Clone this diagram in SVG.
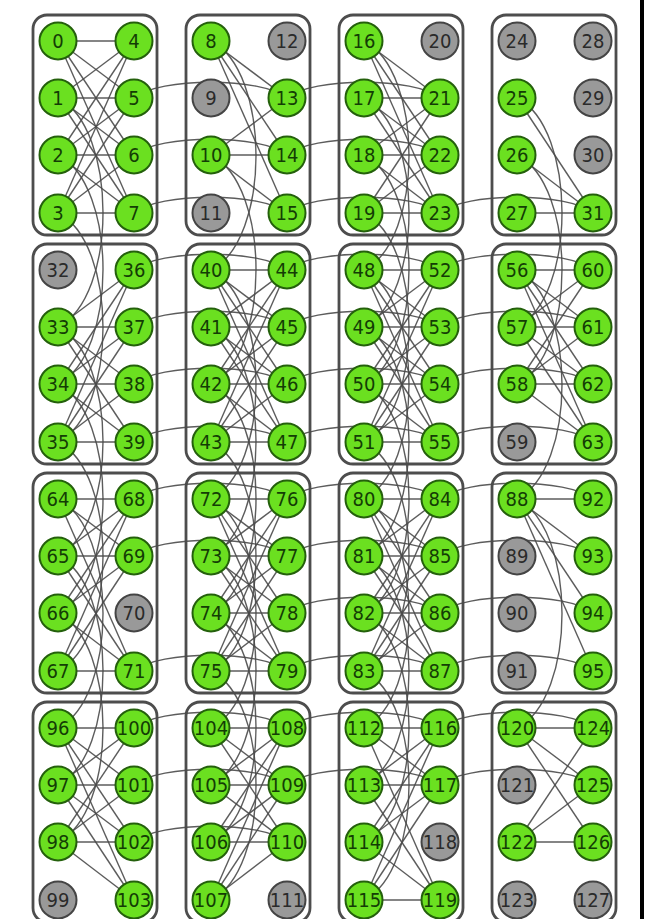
<svg xmlns="http://www.w3.org/2000/svg" width="655" height="919" viewBox="0 0 655 919">
<style>
.box{fill:none;stroke:#4d4d4d;stroke-width:2.8}
.e line,.e path{stroke:#4a4a4a;stroke-width:1.4;fill:none;stroke-opacity:0.9}
.n circle{r:18.5px;stroke-width:2}
.g circle{fill:#6be020;stroke:#24600c}
.d circle{fill:#999;stroke:#444}
.n text{font-family:"DejaVu Sans Condensed","DejaVu Sans",sans-serif;font-stretch:condensed;font-size:20px;text-anchor:middle}
.g text{fill:#133d05}
.d text{fill:#2a2a2a}
</style>
<rect width="655" height="919" fill="#fff"/>
<g id="cells">
<rect class="box" x="33" y="15" width="124" height="220" rx="14"/>
<rect class="box" x="186" y="15" width="124" height="220" rx="14"/>
<rect class="box" x="339" y="15" width="124" height="220" rx="14"/>
<rect class="box" x="492" y="15" width="124" height="220" rx="14"/>
<rect class="box" x="33" y="244" width="124" height="220" rx="14"/>
<rect class="box" x="186" y="244" width="124" height="220" rx="14"/>
<rect class="box" x="339" y="244" width="124" height="220" rx="14"/>
<rect class="box" x="492" y="244" width="124" height="220" rx="14"/>
<rect class="box" x="33" y="473" width="124" height="220" rx="14"/>
<rect class="box" x="186" y="473" width="124" height="220" rx="14"/>
<rect class="box" x="339" y="473" width="124" height="220" rx="14"/>
<rect class="box" x="492" y="473" width="124" height="220" rx="14"/>
<rect class="box" x="33" y="702" width="124" height="220" rx="14"/>
<rect class="box" x="186" y="702" width="124" height="220" rx="14"/>
<rect class="box" x="339" y="702" width="124" height="220" rx="14"/>
<rect class="box" x="492" y="702" width="124" height="220" rx="14"/>
</g>
<rect x="640" y="0" width="4" height="919" fill="#000"/>
<g id="connectors" class="e">
<line x1="58" y1="41" x2="134" y2="41"/><line x1="58" y1="41" x2="134" y2="98"/><line x1="58" y1="41" x2="134" y2="155"/><line x1="58" y1="41" x2="134" y2="213"/>
<line x1="58" y1="98" x2="134" y2="41"/><line x1="58" y1="98" x2="134" y2="98"/><line x1="58" y1="98" x2="134" y2="155"/><line x1="58" y1="98" x2="134" y2="213"/>
<line x1="58" y1="155" x2="134" y2="41"/><line x1="58" y1="155" x2="134" y2="98"/><line x1="58" y1="155" x2="134" y2="155"/><line x1="58" y1="155" x2="134" y2="213"/>
<line x1="58" y1="213" x2="134" y2="41"/><line x1="58" y1="213" x2="134" y2="98"/><line x1="58" y1="213" x2="134" y2="155"/><line x1="58" y1="213" x2="134" y2="213"/>
<line x1="211" y1="41" x2="287" y2="98"/><line x1="211" y1="41" x2="287" y2="155"/><line x1="211" y1="41" x2="287" y2="213"/>
<line x1="211" y1="155" x2="287" y2="98"/><line x1="211" y1="155" x2="287" y2="155"/><line x1="211" y1="155" x2="287" y2="213"/>
<line x1="364" y1="41" x2="440" y2="98"/><line x1="364" y1="41" x2="440" y2="155"/><line x1="364" y1="41" x2="440" y2="213"/>
<line x1="364" y1="98" x2="440" y2="98"/><line x1="364" y1="98" x2="440" y2="155"/><line x1="364" y1="98" x2="440" y2="213"/>
<line x1="364" y1="155" x2="440" y2="98"/><line x1="364" y1="155" x2="440" y2="155"/><line x1="364" y1="155" x2="440" y2="213"/>
<line x1="364" y1="213" x2="440" y2="98"/><line x1="364" y1="213" x2="440" y2="155"/><line x1="364" y1="213" x2="440" y2="213"/>
<line x1="517" y1="98" x2="593" y2="213"/><line x1="517" y1="155" x2="593" y2="213"/><line x1="517" y1="213" x2="593" y2="213"/>
<line x1="58" y1="327" x2="134" y2="270"/><line x1="58" y1="327" x2="134" y2="327"/><line x1="58" y1="327" x2="134" y2="384"/><line x1="58" y1="327" x2="134" y2="442"/>
<line x1="58" y1="384" x2="134" y2="270"/><line x1="58" y1="384" x2="134" y2="327"/><line x1="58" y1="384" x2="134" y2="384"/><line x1="58" y1="384" x2="134" y2="442"/>
<line x1="58" y1="442" x2="134" y2="270"/><line x1="58" y1="442" x2="134" y2="327"/><line x1="58" y1="442" x2="134" y2="384"/><line x1="58" y1="442" x2="134" y2="442"/>
<line x1="211" y1="270" x2="287" y2="270"/><line x1="211" y1="270" x2="287" y2="327"/><line x1="211" y1="270" x2="287" y2="384"/><line x1="211" y1="270" x2="287" y2="442"/>
<line x1="211" y1="327" x2="287" y2="270"/><line x1="211" y1="327" x2="287" y2="327"/><line x1="211" y1="327" x2="287" y2="384"/><line x1="211" y1="327" x2="287" y2="442"/>
<line x1="211" y1="384" x2="287" y2="270"/><line x1="211" y1="384" x2="287" y2="327"/><line x1="211" y1="384" x2="287" y2="384"/><line x1="211" y1="384" x2="287" y2="442"/>
<line x1="211" y1="442" x2="287" y2="270"/><line x1="211" y1="442" x2="287" y2="327"/><line x1="211" y1="442" x2="287" y2="384"/><line x1="211" y1="442" x2="287" y2="442"/>
<line x1="364" y1="270" x2="440" y2="270"/><line x1="364" y1="270" x2="440" y2="327"/><line x1="364" y1="270" x2="440" y2="384"/><line x1="364" y1="270" x2="440" y2="442"/>
<line x1="364" y1="327" x2="440" y2="270"/><line x1="364" y1="327" x2="440" y2="327"/><line x1="364" y1="327" x2="440" y2="384"/><line x1="364" y1="327" x2="440" y2="442"/>
<line x1="364" y1="384" x2="440" y2="270"/><line x1="364" y1="384" x2="440" y2="327"/><line x1="364" y1="384" x2="440" y2="384"/><line x1="364" y1="384" x2="440" y2="442"/>
<line x1="364" y1="442" x2="440" y2="270"/><line x1="364" y1="442" x2="440" y2="327"/><line x1="364" y1="442" x2="440" y2="384"/><line x1="364" y1="442" x2="440" y2="442"/>
<line x1="517" y1="270" x2="593" y2="270"/><line x1="517" y1="270" x2="593" y2="327"/><line x1="517" y1="270" x2="593" y2="384"/><line x1="517" y1="270" x2="593" y2="442"/>
<line x1="517" y1="327" x2="593" y2="270"/><line x1="517" y1="327" x2="593" y2="327"/><line x1="517" y1="327" x2="593" y2="384"/><line x1="517" y1="327" x2="593" y2="442"/>
<line x1="517" y1="384" x2="593" y2="270"/><line x1="517" y1="384" x2="593" y2="327"/><line x1="517" y1="384" x2="593" y2="384"/><line x1="517" y1="384" x2="593" y2="442"/>
<line x1="58" y1="499" x2="134" y2="499"/><line x1="58" y1="499" x2="134" y2="556"/><line x1="58" y1="499" x2="134" y2="671"/>
<line x1="58" y1="556" x2="134" y2="499"/><line x1="58" y1="556" x2="134" y2="556"/><line x1="58" y1="556" x2="134" y2="671"/>
<line x1="58" y1="613" x2="134" y2="499"/><line x1="58" y1="613" x2="134" y2="556"/><line x1="58" y1="613" x2="134" y2="671"/>
<line x1="58" y1="671" x2="134" y2="499"/><line x1="58" y1="671" x2="134" y2="556"/><line x1="58" y1="671" x2="134" y2="671"/>
<line x1="211" y1="499" x2="287" y2="499"/><line x1="211" y1="499" x2="287" y2="556"/><line x1="211" y1="499" x2="287" y2="613"/><line x1="211" y1="499" x2="287" y2="671"/>
<line x1="211" y1="556" x2="287" y2="499"/><line x1="211" y1="556" x2="287" y2="556"/><line x1="211" y1="556" x2="287" y2="613"/><line x1="211" y1="556" x2="287" y2="671"/>
<line x1="211" y1="613" x2="287" y2="499"/><line x1="211" y1="613" x2="287" y2="556"/><line x1="211" y1="613" x2="287" y2="613"/><line x1="211" y1="613" x2="287" y2="671"/>
<line x1="211" y1="671" x2="287" y2="499"/><line x1="211" y1="671" x2="287" y2="556"/><line x1="211" y1="671" x2="287" y2="613"/><line x1="211" y1="671" x2="287" y2="671"/>
<line x1="364" y1="499" x2="440" y2="499"/><line x1="364" y1="499" x2="440" y2="556"/><line x1="364" y1="499" x2="440" y2="613"/><line x1="364" y1="499" x2="440" y2="671"/>
<line x1="364" y1="556" x2="440" y2="499"/><line x1="364" y1="556" x2="440" y2="556"/><line x1="364" y1="556" x2="440" y2="613"/><line x1="364" y1="556" x2="440" y2="671"/>
<line x1="364" y1="613" x2="440" y2="499"/><line x1="364" y1="613" x2="440" y2="556"/><line x1="364" y1="613" x2="440" y2="613"/><line x1="364" y1="613" x2="440" y2="671"/>
<line x1="364" y1="671" x2="440" y2="499"/><line x1="364" y1="671" x2="440" y2="556"/><line x1="364" y1="671" x2="440" y2="613"/><line x1="364" y1="671" x2="440" y2="671"/>
<line x1="517" y1="499" x2="593" y2="499"/><line x1="517" y1="499" x2="593" y2="556"/><line x1="517" y1="499" x2="593" y2="613"/><line x1="517" y1="499" x2="593" y2="671"/>
<line x1="58" y1="728" x2="134" y2="728"/><line x1="58" y1="728" x2="134" y2="785"/><line x1="58" y1="728" x2="134" y2="842"/><line x1="58" y1="728" x2="134" y2="900"/>
<line x1="58" y1="785" x2="134" y2="728"/><line x1="58" y1="785" x2="134" y2="785"/><line x1="58" y1="785" x2="134" y2="842"/><line x1="58" y1="785" x2="134" y2="900"/>
<line x1="58" y1="842" x2="134" y2="728"/><line x1="58" y1="842" x2="134" y2="785"/><line x1="58" y1="842" x2="134" y2="842"/><line x1="58" y1="842" x2="134" y2="900"/>
<line x1="211" y1="728" x2="287" y2="728"/><line x1="211" y1="728" x2="287" y2="785"/><line x1="211" y1="728" x2="287" y2="842"/>
<line x1="211" y1="785" x2="287" y2="728"/><line x1="211" y1="785" x2="287" y2="785"/><line x1="211" y1="785" x2="287" y2="842"/>
<line x1="211" y1="842" x2="287" y2="728"/><line x1="211" y1="842" x2="287" y2="785"/><line x1="211" y1="842" x2="287" y2="842"/>
<line x1="211" y1="900" x2="287" y2="728"/><line x1="211" y1="900" x2="287" y2="785"/><line x1="211" y1="900" x2="287" y2="842"/>
<line x1="364" y1="728" x2="440" y2="728"/><line x1="364" y1="728" x2="440" y2="785"/><line x1="364" y1="728" x2="440" y2="900"/>
<line x1="364" y1="785" x2="440" y2="728"/><line x1="364" y1="785" x2="440" y2="785"/><line x1="364" y1="785" x2="440" y2="900"/>
<line x1="364" y1="842" x2="440" y2="728"/><line x1="364" y1="842" x2="440" y2="785"/><line x1="364" y1="842" x2="440" y2="900"/>
<line x1="364" y1="900" x2="440" y2="728"/><line x1="364" y1="900" x2="440" y2="785"/><line x1="364" y1="900" x2="440" y2="900"/>
<line x1="517" y1="728" x2="593" y2="728"/><line x1="517" y1="728" x2="593" y2="785"/><line x1="517" y1="728" x2="593" y2="842"/>
<line x1="517" y1="842" x2="593" y2="728"/><line x1="517" y1="842" x2="593" y2="785"/><line x1="517" y1="842" x2="593" y2="842"/>
<path d="M134,98 c25,-21 128,-21 153,0"/><path d="M287,98 c25,-21 128,-21 153,0"/>
<path d="M134,155 c25,-21 128,-21 153,0"/><path d="M287,155 c25,-21 128,-21 153,0"/>
<path d="M134,213 c25,-21 128,-21 153,0"/><path d="M287,213 c25,-21 128,-21 153,0"/><path d="M440,213 c25,-21 128,-21 153,0"/>
<path d="M134,270 c25,-21 128,-21 153,0"/><path d="M287,270 c25,-21 128,-21 153,0"/><path d="M440,270 c25,-21 128,-21 153,0"/>
<path d="M134,327 c25,-21 128,-21 153,0"/><path d="M287,327 c25,-21 128,-21 153,0"/><path d="M440,327 c25,-21 128,-21 153,0"/>
<path d="M134,384 c25,-21 128,-21 153,0"/><path d="M287,384 c25,-21 128,-21 153,0"/><path d="M440,384 c25,-21 128,-21 153,0"/>
<path d="M134,442 c25,-21 128,-21 153,0"/><path d="M287,442 c25,-21 128,-21 153,0"/><path d="M440,442 c25,-21 128,-21 153,0"/>
<path d="M134,499 c25,-21 128,-21 153,0"/><path d="M287,499 c25,-21 128,-21 153,0"/><path d="M440,499 c25,-21 128,-21 153,0"/>
<path d="M134,556 c25,-21 128,-21 153,0"/><path d="M287,556 c25,-21 128,-21 153,0"/><path d="M440,556 c25,-21 128,-21 153,0"/>
<path d="M287,613 c25,-21 128,-21 153,0"/><path d="M440,613 c25,-21 128,-21 153,0"/>
<path d="M134,671 c25,-21 128,-21 153,0"/><path d="M287,671 c25,-21 128,-21 153,0"/><path d="M440,671 c25,-21 128,-21 153,0"/>
<path d="M134,728 c25,-21 128,-21 153,0"/><path d="M287,728 c25,-21 128,-21 153,0"/><path d="M440,728 c25,-21 128,-21 153,0"/>
<path d="M134,785 c25,-21 128,-21 153,0"/><path d="M287,785 c25,-21 128,-21 153,0"/><path d="M440,785 c25,-21 128,-21 153,0"/>
<path d="M134,842 c25,-21 128,-21 153,0"/>
<path d="M58,98 c60,30 60,199 0,229"/><path d="M58,155 c60,30 60,199 0,229"/><path d="M58,213 c60,30 60,199 0,229"/>
<path d="M58,327 c60,30 60,199 0,229"/><path d="M58,384 c60,30 60,199 0,229"/><path d="M58,442 c60,30 60,199 0,229"/>
<path d="M58,499 c60,30 60,199 0,229"/><path d="M58,556 c60,30 60,199 0,229"/><path d="M58,613 c60,30 60,199 0,229"/>
<path d="M211,41 c60,30 60,199 0,229"/><path d="M211,155 c60,30 60,199 0,229"/>
<path d="M211,270 c60,30 60,199 0,229"/><path d="M211,327 c60,30 60,199 0,229"/><path d="M211,384 c60,30 60,199 0,229"/><path d="M211,442 c60,30 60,199 0,229"/>
<path d="M211,499 c60,30 60,199 0,229"/><path d="M211,556 c60,30 60,199 0,229"/><path d="M211,613 c60,30 60,199 0,229"/><path d="M211,671 c60,30 60,199 0,229"/>
<path d="M364,41 c60,30 60,199 0,229"/><path d="M364,98 c60,30 60,199 0,229"/><path d="M364,155 c60,30 60,199 0,229"/><path d="M364,213 c60,30 60,199 0,229"/>
<path d="M364,270 c60,30 60,199 0,229"/><path d="M364,327 c60,30 60,199 0,229"/><path d="M364,384 c60,30 60,199 0,229"/><path d="M364,442 c60,30 60,199 0,229"/>
<path d="M364,499 c60,30 60,199 0,229"/><path d="M364,556 c60,30 60,199 0,229"/><path d="M364,613 c60,30 60,199 0,229"/><path d="M364,671 c60,30 60,199 0,229"/>
<path d="M517,98 c60,30 60,199 0,229"/><path d="M517,155 c60,30 60,199 0,229"/>
<path d="M517,270 c60,30 60,199 0,229"/><path d="M517,499 c60,30 60,199 0,229"/>
</g>
<g id="nodes">
<g id="n0" class="n g"><circle cx="58" cy="41"/><text x="58" y="48">0</text></g>
<g id="n1" class="n g"><circle cx="58" cy="98"/><text x="58" y="105">1</text></g>
<g id="n2" class="n g"><circle cx="58" cy="155"/><text x="58" y="162">2</text></g>
<g id="n3" class="n g"><circle cx="58" cy="213"/><text x="58" y="220">3</text></g>
<g id="n4" class="n g"><circle cx="134" cy="41"/><text x="134" y="48">4</text></g>
<g id="n5" class="n g"><circle cx="134" cy="98"/><text x="134" y="105">5</text></g>
<g id="n6" class="n g"><circle cx="134" cy="155"/><text x="134" y="162">6</text></g>
<g id="n7" class="n g"><circle cx="134" cy="213"/><text x="134" y="220">7</text></g>
<g id="n8" class="n g"><circle cx="211" cy="41"/><text x="211" y="48">8</text></g>
<g id="n9" class="n d"><circle cx="211" cy="98"/><text x="211" y="105">9</text></g>
<g id="n10" class="n g"><circle cx="211" cy="155"/><text x="211" y="162">10</text></g>
<g id="n11" class="n d"><circle cx="211" cy="213"/><text x="211" y="220">11</text></g>
<g id="n12" class="n d"><circle cx="287" cy="41"/><text x="287" y="48">12</text></g>
<g id="n13" class="n g"><circle cx="287" cy="98"/><text x="287" y="105">13</text></g>
<g id="n14" class="n g"><circle cx="287" cy="155"/><text x="287" y="162">14</text></g>
<g id="n15" class="n g"><circle cx="287" cy="213"/><text x="287" y="220">15</text></g>
<g id="n16" class="n g"><circle cx="364" cy="41"/><text x="364" y="48">16</text></g>
<g id="n17" class="n g"><circle cx="364" cy="98"/><text x="364" y="105">17</text></g>
<g id="n18" class="n g"><circle cx="364" cy="155"/><text x="364" y="162">18</text></g>
<g id="n19" class="n g"><circle cx="364" cy="213"/><text x="364" y="220">19</text></g>
<g id="n20" class="n d"><circle cx="440" cy="41"/><text x="440" y="48">20</text></g>
<g id="n21" class="n g"><circle cx="440" cy="98"/><text x="440" y="105">21</text></g>
<g id="n22" class="n g"><circle cx="440" cy="155"/><text x="440" y="162">22</text></g>
<g id="n23" class="n g"><circle cx="440" cy="213"/><text x="440" y="220">23</text></g>
<g id="n24" class="n d"><circle cx="517" cy="41"/><text x="517" y="48">24</text></g>
<g id="n25" class="n g"><circle cx="517" cy="98"/><text x="517" y="105">25</text></g>
<g id="n26" class="n g"><circle cx="517" cy="155"/><text x="517" y="162">26</text></g>
<g id="n27" class="n g"><circle cx="517" cy="213"/><text x="517" y="220">27</text></g>
<g id="n28" class="n d"><circle cx="593" cy="41"/><text x="593" y="48">28</text></g>
<g id="n29" class="n d"><circle cx="593" cy="98"/><text x="593" y="105">29</text></g>
<g id="n30" class="n d"><circle cx="593" cy="155"/><text x="593" y="162">30</text></g>
<g id="n31" class="n g"><circle cx="593" cy="213"/><text x="593" y="220">31</text></g>
<g id="n32" class="n d"><circle cx="58" cy="270"/><text x="58" y="277">32</text></g>
<g id="n33" class="n g"><circle cx="58" cy="327"/><text x="58" y="334">33</text></g>
<g id="n34" class="n g"><circle cx="58" cy="384"/><text x="58" y="391">34</text></g>
<g id="n35" class="n g"><circle cx="58" cy="442"/><text x="58" y="449">35</text></g>
<g id="n36" class="n g"><circle cx="134" cy="270"/><text x="134" y="277">36</text></g>
<g id="n37" class="n g"><circle cx="134" cy="327"/><text x="134" y="334">37</text></g>
<g id="n38" class="n g"><circle cx="134" cy="384"/><text x="134" y="391">38</text></g>
<g id="n39" class="n g"><circle cx="134" cy="442"/><text x="134" y="449">39</text></g>
<g id="n40" class="n g"><circle cx="211" cy="270"/><text x="211" y="277">40</text></g>
<g id="n41" class="n g"><circle cx="211" cy="327"/><text x="211" y="334">41</text></g>
<g id="n42" class="n g"><circle cx="211" cy="384"/><text x="211" y="391">42</text></g>
<g id="n43" class="n g"><circle cx="211" cy="442"/><text x="211" y="449">43</text></g>
<g id="n44" class="n g"><circle cx="287" cy="270"/><text x="287" y="277">44</text></g>
<g id="n45" class="n g"><circle cx="287" cy="327"/><text x="287" y="334">45</text></g>
<g id="n46" class="n g"><circle cx="287" cy="384"/><text x="287" y="391">46</text></g>
<g id="n47" class="n g"><circle cx="287" cy="442"/><text x="287" y="449">47</text></g>
<g id="n48" class="n g"><circle cx="364" cy="270"/><text x="364" y="277">48</text></g>
<g id="n49" class="n g"><circle cx="364" cy="327"/><text x="364" y="334">49</text></g>
<g id="n50" class="n g"><circle cx="364" cy="384"/><text x="364" y="391">50</text></g>
<g id="n51" class="n g"><circle cx="364" cy="442"/><text x="364" y="449">51</text></g>
<g id="n52" class="n g"><circle cx="440" cy="270"/><text x="440" y="277">52</text></g>
<g id="n53" class="n g"><circle cx="440" cy="327"/><text x="440" y="334">53</text></g>
<g id="n54" class="n g"><circle cx="440" cy="384"/><text x="440" y="391">54</text></g>
<g id="n55" class="n g"><circle cx="440" cy="442"/><text x="440" y="449">55</text></g>
<g id="n56" class="n g"><circle cx="517" cy="270"/><text x="517" y="277">56</text></g>
<g id="n57" class="n g"><circle cx="517" cy="327"/><text x="517" y="334">57</text></g>
<g id="n58" class="n g"><circle cx="517" cy="384"/><text x="517" y="391">58</text></g>
<g id="n59" class="n d"><circle cx="517" cy="442"/><text x="517" y="449">59</text></g>
<g id="n60" class="n g"><circle cx="593" cy="270"/><text x="593" y="277">60</text></g>
<g id="n61" class="n g"><circle cx="593" cy="327"/><text x="593" y="334">61</text></g>
<g id="n62" class="n g"><circle cx="593" cy="384"/><text x="593" y="391">62</text></g>
<g id="n63" class="n g"><circle cx="593" cy="442"/><text x="593" y="449">63</text></g>
<g id="n64" class="n g"><circle cx="58" cy="499"/><text x="58" y="506">64</text></g>
<g id="n65" class="n g"><circle cx="58" cy="556"/><text x="58" y="563">65</text></g>
<g id="n66" class="n g"><circle cx="58" cy="613"/><text x="58" y="620">66</text></g>
<g id="n67" class="n g"><circle cx="58" cy="671"/><text x="58" y="678">67</text></g>
<g id="n68" class="n g"><circle cx="134" cy="499"/><text x="134" y="506">68</text></g>
<g id="n69" class="n g"><circle cx="134" cy="556"/><text x="134" y="563">69</text></g>
<g id="n70" class="n d"><circle cx="134" cy="613"/><text x="134" y="620">70</text></g>
<g id="n71" class="n g"><circle cx="134" cy="671"/><text x="134" y="678">71</text></g>
<g id="n72" class="n g"><circle cx="211" cy="499"/><text x="211" y="506">72</text></g>
<g id="n73" class="n g"><circle cx="211" cy="556"/><text x="211" y="563">73</text></g>
<g id="n74" class="n g"><circle cx="211" cy="613"/><text x="211" y="620">74</text></g>
<g id="n75" class="n g"><circle cx="211" cy="671"/><text x="211" y="678">75</text></g>
<g id="n76" class="n g"><circle cx="287" cy="499"/><text x="287" y="506">76</text></g>
<g id="n77" class="n g"><circle cx="287" cy="556"/><text x="287" y="563">77</text></g>
<g id="n78" class="n g"><circle cx="287" cy="613"/><text x="287" y="620">78</text></g>
<g id="n79" class="n g"><circle cx="287" cy="671"/><text x="287" y="678">79</text></g>
<g id="n80" class="n g"><circle cx="364" cy="499"/><text x="364" y="506">80</text></g>
<g id="n81" class="n g"><circle cx="364" cy="556"/><text x="364" y="563">81</text></g>
<g id="n82" class="n g"><circle cx="364" cy="613"/><text x="364" y="620">82</text></g>
<g id="n83" class="n g"><circle cx="364" cy="671"/><text x="364" y="678">83</text></g>
<g id="n84" class="n g"><circle cx="440" cy="499"/><text x="440" y="506">84</text></g>
<g id="n85" class="n g"><circle cx="440" cy="556"/><text x="440" y="563">85</text></g>
<g id="n86" class="n g"><circle cx="440" cy="613"/><text x="440" y="620">86</text></g>
<g id="n87" class="n g"><circle cx="440" cy="671"/><text x="440" y="678">87</text></g>
<g id="n88" class="n g"><circle cx="517" cy="499"/><text x="517" y="506">88</text></g>
<g id="n89" class="n d"><circle cx="517" cy="556"/><text x="517" y="563">89</text></g>
<g id="n90" class="n d"><circle cx="517" cy="613"/><text x="517" y="620">90</text></g>
<g id="n91" class="n d"><circle cx="517" cy="671"/><text x="517" y="678">91</text></g>
<g id="n92" class="n g"><circle cx="593" cy="499"/><text x="593" y="506">92</text></g>
<g id="n93" class="n g"><circle cx="593" cy="556"/><text x="593" y="563">93</text></g>
<g id="n94" class="n g"><circle cx="593" cy="613"/><text x="593" y="620">94</text></g>
<g id="n95" class="n g"><circle cx="593" cy="671"/><text x="593" y="678">95</text></g>
<g id="n96" class="n g"><circle cx="58" cy="728"/><text x="58" y="735">96</text></g>
<g id="n97" class="n g"><circle cx="58" cy="785"/><text x="58" y="792">97</text></g>
<g id="n98" class="n g"><circle cx="58" cy="842"/><text x="58" y="849">98</text></g>
<g id="n99" class="n d"><circle cx="58" cy="900"/><text x="58" y="907">99</text></g>
<g id="n100" class="n g"><circle cx="134" cy="728"/><text x="134" y="735">100</text></g>
<g id="n101" class="n g"><circle cx="134" cy="785"/><text x="134" y="792">101</text></g>
<g id="n102" class="n g"><circle cx="134" cy="842"/><text x="134" y="849">102</text></g>
<g id="n103" class="n g"><circle cx="134" cy="900"/><text x="134" y="907">103</text></g>
<g id="n104" class="n g"><circle cx="211" cy="728"/><text x="211" y="735">104</text></g>
<g id="n105" class="n g"><circle cx="211" cy="785"/><text x="211" y="792">105</text></g>
<g id="n106" class="n g"><circle cx="211" cy="842"/><text x="211" y="849">106</text></g>
<g id="n107" class="n g"><circle cx="211" cy="900"/><text x="211" y="907">107</text></g>
<g id="n108" class="n g"><circle cx="287" cy="728"/><text x="287" y="735">108</text></g>
<g id="n109" class="n g"><circle cx="287" cy="785"/><text x="287" y="792">109</text></g>
<g id="n110" class="n g"><circle cx="287" cy="842"/><text x="287" y="849">110</text></g>
<g id="n111" class="n d"><circle cx="287" cy="900"/><text x="287" y="907">111</text></g>
<g id="n112" class="n g"><circle cx="364" cy="728"/><text x="364" y="735">112</text></g>
<g id="n113" class="n g"><circle cx="364" cy="785"/><text x="364" y="792">113</text></g>
<g id="n114" class="n g"><circle cx="364" cy="842"/><text x="364" y="849">114</text></g>
<g id="n115" class="n g"><circle cx="364" cy="900"/><text x="364" y="907">115</text></g>
<g id="n116" class="n g"><circle cx="440" cy="728"/><text x="440" y="735">116</text></g>
<g id="n117" class="n g"><circle cx="440" cy="785"/><text x="440" y="792">117</text></g>
<g id="n118" class="n d"><circle cx="440" cy="842"/><text x="440" y="849">118</text></g>
<g id="n119" class="n g"><circle cx="440" cy="900"/><text x="440" y="907">119</text></g>
<g id="n120" class="n g"><circle cx="517" cy="728"/><text x="517" y="735">120</text></g>
<g id="n121" class="n d"><circle cx="517" cy="785"/><text x="517" y="792">121</text></g>
<g id="n122" class="n g"><circle cx="517" cy="842"/><text x="517" y="849">122</text></g>
<g id="n123" class="n d"><circle cx="517" cy="900"/><text x="517" y="907">123</text></g>
<g id="n124" class="n g"><circle cx="593" cy="728"/><text x="593" y="735">124</text></g>
<g id="n125" class="n g"><circle cx="593" cy="785"/><text x="593" y="792">125</text></g>
<g id="n126" class="n g"><circle cx="593" cy="842"/><text x="593" y="849">126</text></g>
<g id="n127" class="n d"><circle cx="593" cy="900"/><text x="593" y="907">127</text></g>
</g>
</svg>
